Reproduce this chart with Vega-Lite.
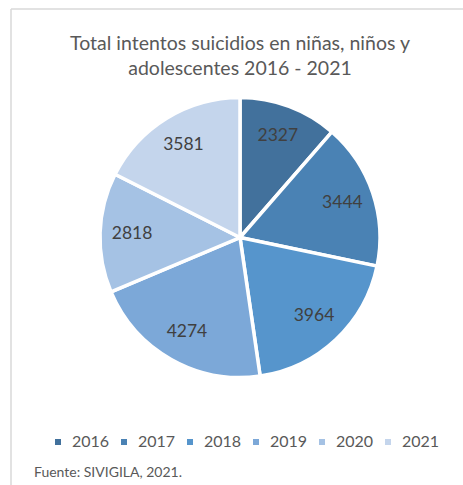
{
  "$schema": "https://vega.github.io/schema/vega-lite/v6.json",
  "width": 452,
  "height": 476,
  "autosize": "none",
  "padding": {"left": 11, "top": 9, "right": 0, "bottom": 0},
  "background": "white",
  "view": {"stroke": "#d9d9d9", "strokeWidth": 1.5, "strokeDash": [452, 928, 476, 0]},
  "title": {
    "text": ["Total intentos suicidios en niñas, niños y", "adolescentes 2016 - 2021"],
    "font": "Lato",
    "fontSize": 19.5,
    "fontWeight": "normal",
    "color": "#595959",
    "anchor": "middle",
    "offset": -70,
    "dx": 3,
    "lineHeight": 25
  },
  "data": {
    "values": [
      {"anio": "2016", "casos": 2327},
      {"anio": "2017", "casos": 3444},
      {"anio": "2018", "casos": 3964},
      {"anio": "2019", "casos": 4274},
      {"anio": "2020", "casos": 2818},
      {"anio": "2021", "casos": 3581}
    ]
  },
  "encoding": {
    "theta": {"field": "casos", "type": "quantitative", "stack": true},
    "order": {"field": "anio", "type": "ordinal"},
    "color": {
      "field": "anio",
      "type": "nominal",
      "scale": {
        "domain": ["2016", "2017", "2018", "2019", "2020", "2021"],
        "range": ["#42719c", "#4a82b4", "#5695cc", "#7ca8d8", "#a5c2e4", "#c4d5ec"]
      },
      "legend": {
        "orient": "none",
        "legendX": 39,
        "legendY": 425,
        "direction": "horizontal",
        "title": null,
        "symbolType": "square",
        "symbolSize": 36,
        "symbolStrokeWidth": 0,
        "labelFont": "Lato",
        "labelFontSize": 16,
        "labelColor": "#595959",
        "labelOffset": 6,
        "columnPadding": 6
      }
    }
  },
  "layer": [
    {
      "mark": {"type": "arc", "outerRadius": 140, "stroke": "white", "strokeWidth": 3.5, "xOffset": 3, "yOffset": -9.5}
    },
    {
      "mark": {"type": "text", "radius": 108, "font": "Lato", "fontSize": 17.5, "xOffset": 3, "yOffset": -9.5},
      "encoding": {
        "text": {"field": "casos", "type": "quantitative", "format": "d"},
        "color": {"value": "#404040"},
        "opacity": {
          "field": "casos",
          "type": "quantitative",
          "scale": {"range": [1, 1]},
          "legend": {
            "orient": "none",
            "legendX": 23,
            "legendY": 457,
            "values": [],
            "title": "Fuente: SIVIGILA, 2021.",
            "titleFont": "Lato",
            "titleFontSize": 14,
            "titleFontWeight": "normal",
            "titleColor": "#595959",
            "titleLimit": 400
          }
        }
      }
    }
  ]
}
